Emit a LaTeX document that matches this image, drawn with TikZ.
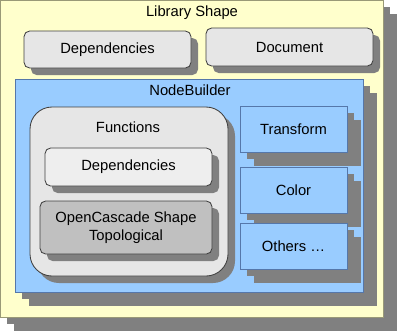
\documentclass[tikz,border=0pt]{standalone}
\usepackage{fontspec}
\setmainfont{Liberation Sans}
\usetikzlibrary{shadows}
\definecolor{libc}{HTML}{FFFFCC}
\definecolor{libl}{HTML}{999977}
\definecolor{nbc}{HTML}{99CCFF}
\definecolor{nbl}{HTML}{5577AA}
\definecolor{boxc}{HTML}{E6E6E6}
\definecolor{depc}{HTML}{EEEEEE}
\definecolor{occc}{HTML}{C0C0C0}
\definecolor{shadc}{HTML}{808080}
\newcommand{\px}{0.025cm}
\tikzset{
  txt/.style={font=\fontsize{10.5}{12.5}\selectfont,align=center},
  sha/.style={general shadow={shadow xshift=0.175cm,shadow yshift=-0.175cm,fill=shadc}},
  shb/.style={general shadow={shadow xshift=0.35cm,shadow yshift=-0.35cm,fill=shadc},sha},
  panel/.style={txt,draw,line width=0.6pt,inner sep=0pt,minimum width=#1},
  gbox/.style={panel=167*\px,fill=boxc,draw=black!75,rounded corners=4pt,sha},
  bbox/.style={panel=107*\px,minimum height=46*\px,fill=nbc,draw=nbl,shb}
}

\begin{document}
\begin{tikzpicture}[x=\px,y=-\px]
\useasboundingbox (0,0) rectangle (400,332);
% outer frame
\node[panel=383*\px,minimum height=317*\px,fill=libc,draw=libl,shb] (lib) at (191.5,158.5) {};
\node[txt] (libt) at (192,13) {Library Shape};
\node[gbox,minimum height=37*\px] (dep) at (107.5,49.5) {Dependencies};
\node[gbox,minimum height=38*\px] (doc) at (289.5,47) {Document};
% node builder
\node[panel=348*\px,minimum height=213*\px,fill=nbc,draw=nbl,shb] (nb) at (189,185.5) {};
\node[txt] (nbt) at (190,90) {NodeBuilder};
\node[panel=198*\px,minimum height=169*\px,fill=boxc,draw=black!75,rounded corners=22*\px,sha] (fun) at (129,191.5) {};
\node[txt] (funt) at (128,127) {Functions};
\node[gbox,minimum height=38*\px,fill=depc] (fdep) at (128.5,167) {Dependencies};
\node[gbox,minimum width=172*\px,minimum height=53*\px,fill=occc] (occ) at (126,227.5) {OpenCascade Shape\\Topological};
\node[bbox] (tr) at (293.5,129) {Transform};
\node[bbox] (col) at (293.5,190) {Color};
\node[bbox] (oth) at (293.5,246) {Others \dots};
\end{tikzpicture}
\end{document}
